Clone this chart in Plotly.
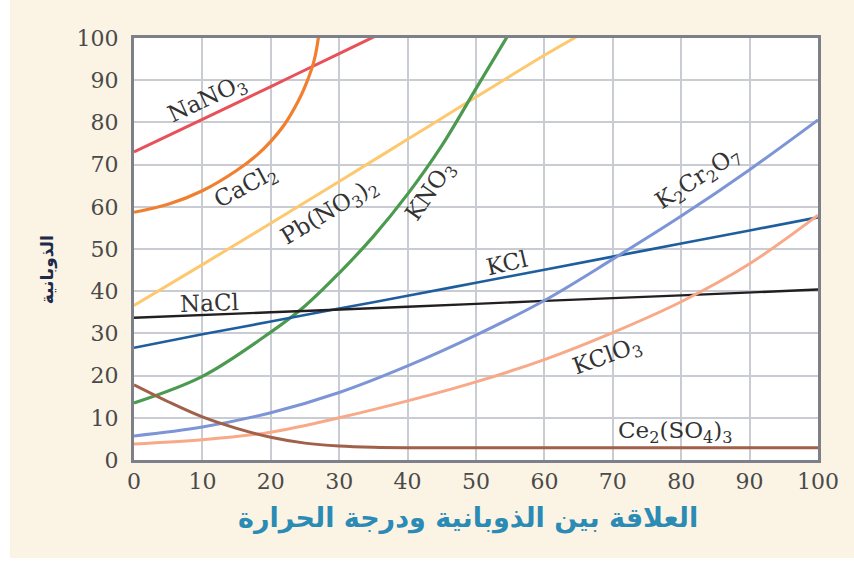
import plotly.graph_objects as go

# ---- data ----
nano3_x = [0, 10, 20, 30, 36, 40]
nano3_y = [73, 80.7, 88.5, 96.3, 101, 104]

cacl2_x = [0, 5, 10, 15, 18, 20, 22, 24, 25, 26, 26.5, 27, 27.3]
cacl2_y = [58.7, 60.6, 63.8, 68.6, 72.3, 75.5, 79.5, 85, 88.5, 92.8, 95.8, 100.5, 104]

pbno32_x = [0, 10, 20, 30, 40, 50, 60, 66]
pbno32_y = [36.6, 46.3, 56.1, 66, 76, 86, 95.9, 101.5]

kno3_x = [0, 10, 20, 25, 30, 35, 40, 45, 50, 55]
kno3_y = [13.5, 19.8, 30.3, 36.5, 44.3, 53, 63, 74.5, 88, 101.5]

kcl_x = [0, 10, 20, 30, 40, 50, 60, 70, 80, 90, 100]
kcl_y = [26.6, 29.8, 32.8, 35.9, 38.9, 42, 45.1, 48.2, 51.3, 54.4, 57.5]

nacl_x = [0, 20, 40, 60, 80, 100]
nacl_y = [33.7, 35, 36.3, 37.7, 39, 40.4]

k2cr2o7_x = [0, 10, 20, 30, 40, 50, 60, 70, 80, 90, 100]
k2cr2o7_y = [5.7, 7.8, 11.2, 16, 22.3, 29.6, 37.8, 47.6, 57.8, 68.8, 80.6]

kclo3_x = [0, 10, 20, 30, 40, 50, 60, 70, 80, 90, 100]
kclo3_y = [3.8, 4.8, 6.6, 10, 14, 18.5, 23.8, 30.2, 37.5, 46.5, 58]

ce2so43_x = [0, 5, 10, 15, 20, 25, 30, 35, 40, 50, 60, 70, 80, 90, 100]
ce2so43_y = [17.8, 13.8, 10.2, 7.5, 5.4, 4.0, 3.3, 3.0, 2.9, 2.9, 2.9, 2.9, 2.9, 2.9, 2.9]

tick_vals = [0, 10, 20, 30, 40, 50, 60, 70, 80, 90, 100]
tick_text = ["0", "10", "20", "30", "40", "50", "60", "70", "80", "90", "100"]

x_title = "العلاقة بين الذوبانية ودرجة الحرارة"
y_title = "الذوبانية"

series = [
    ("NaNO3", nano3_x, nano3_y, "#e8505a", 3),
    ("CaCl2", cacl2_x, cacl2_y, "#f08030", 3.2),
    ("Pb(NO3)2", pbno32_x, pbno32_y, "#fdc86e", 3),
    ("KNO3", kno3_x, kno3_y, "#4c9a50", 3.2),
    ("KCl", kcl_x, kcl_y, "#1f5e9e", 2.6),
    ("NaCl", nacl_x, nacl_y, "#231f20", 2.4),
    ("K2Cr2O7", k2cr2o7_x, k2cr2o7_y, "#7d95d6", 3),
    ("KClO3", kclo3_x, kclo3_y, "#f8aa88", 3),
    ("Ce2(SO4)3", ce2so43_x, ce2so43_y, "#a0604a", 3),
]

# label text, x, y, angle
labels = [
    ("NaNO<sub>3</sub>", 10.7, 85.3, -25),
    ("CaCl<sub>2</sub>", 16.5, 64.6, -28),
    ("Pb(NO<sub>3</sub>)<sub>2</sub>", 28.7, 58.7, -31),
    ("KNO<sub>3</sub>", 43.4, 63.5, -55),
    ("KCl", 54.5, 46.8, -13),
    ("NaCl", 11, 37.3, -2),
    ("K<sub>2</sub>Cr<sub>2</sub>O<sub>7</sub>", 82.5, 66.5, -33),
    ("KClO<sub>3</sub>", 69.2, 24.5, -20),
    ("Ce<sub>2</sub>(SO<sub>4</sub>)<sub>3</sub>", 79.2, 6.7, 0),
]

fig = go.Figure()
for name, xs, ys, color, w in series:
    fig.add_trace(go.Scatter(x=xs, y=ys, mode="lines", name=name,
                             line=dict(color=color, width=w, shape="spline", smoothing=1.0),
                             hoverinfo="skip", showlegend=False))

label_font = dict(family="DejaVu Serif", size=23, color="#333333")
for text, lx, ly, ang in labels:
    fig.add_annotation(x=lx, y=ly, xref="x", yref="y", text=text, showarrow=False,
                       textangle=ang, font=label_font, xanchor="center", yanchor="middle")

fig.add_annotation(x=0.488, y=-0.137, xref="paper", yref="paper", text="<b>" + x_title + "</b>",
                   showarrow=False, font=dict(family="DejaVu Sans", size=27, color="#2b8bb5"),
                   xanchor="center", yanchor="middle")
fig.add_annotation(x=-0.127, y=0.45, xref="paper", yref="paper", text="<b>" + y_title + "</b>",
                   showarrow=False, textangle=-90,
                   font=dict(family="DejaVu Sans", size=17, color="#1f2a4a"),
                   xanchor="center", yanchor="middle")

# white strips at the left and bottom edges of the picture
fig.add_shape(type="rect", xref="paper", yref="paper", x0=-0.25, x1=-0.1813, y0=-0.35, y1=1.2,
              fillcolor="white", line=dict(width=0), layer="below")
fig.add_shape(type="rect", xref="paper", yref="paper", x0=-0.25, x1=1.1, y0=-0.35, y1=-0.232,
              fillcolor="white", line=dict(width=0), layer="below")

axis_common = dict(range=[0, 100], tickvals=tick_vals, ticktext=tick_text,
                   showgrid=True, gridcolor="#c9ccd3", gridwidth=1.6,
                   zeroline=False, showline=True, linecolor="#7d8088", linewidth=3,
                   mirror=True, ticks="", fixedrange=True,
                   tickfont=dict(family="DejaVu Serif", size=22, color="#4a4a4a"))

fig.update_layout(
    width=854, height=561,
    margin=dict(l=134, r=36, t=38, b=101),
    paper_bgcolor="#fbf4e4",
    plot_bgcolor="white",
    xaxis=dict(**axis_common),
    yaxis=dict(**axis_common, ticklabelstandoff=8),
    showlegend=False,
)

fig.write_html("out.html", config={"displayModeBar": False},
               post_script="document.body.style.margin='0px';")
